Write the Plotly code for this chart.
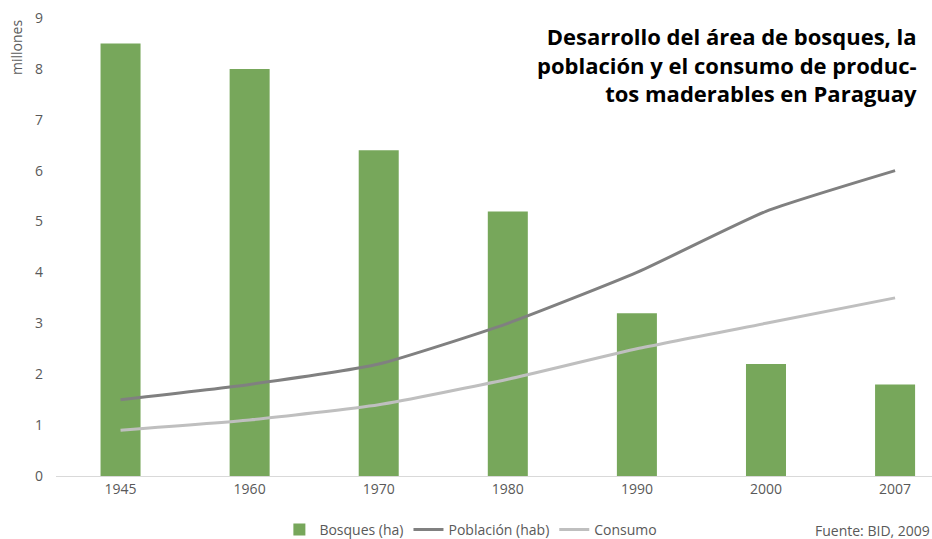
import plotly.graph_objs as go

anios = ['1945', '1960', '1970', '1980', '1990', '2000', '2007']
bosques = [8.5, 8.0, 6.4, 5.2, 3.2, 2.2, 1.8]
poblacion = [1.5, 1.8, 2.2, 3.0, 4.0, 5.2, 6.0]
consumo = [0.9, 1.1, 1.4, 1.9, 2.5, 3.0, 3.5]
y_ticks = [0, 1, 2, 3, 4, 5, 6, 7, 8, 9]

FONT = 'Open Sans'

trace1 = go.Bar(  # barras de bosques
    x=anios,
    y=bosques,
    name='Bosques (ha)',
    marker=dict(color='#77A75B', line=dict(width=0)),
    width=0.31,
)

trace2 = go.Scatter(
    x=anios,
    y=poblacion,
    mode='lines',
    name='Población (hab)',
    line=dict(color='#808080', width=3, shape='spline', smoothing=0.5),
)

trace3 = go.Scatter(
    x=anios,
    y=consumo,
    mode='lines',
    name='Consumo',
    line=dict(color='#BFBFBF', width=3, shape='spline', smoothing=0.5),
)

layout = go.Layout(
    width=932,
    height=539,
    margin=dict(l=56, r=0, t=18, b=63),
    plot_bgcolor='white',
    paper_bgcolor='white',
    font=dict(family=FONT, size=14, color='#595959'),
    showlegend=True,
    legend=dict(orientation='h', x=0.255, xanchor='left',
                yref='container', y=(539 - 530) / 539, yanchor='middle',
                font=dict(size=14, color='#595959'), traceorder='normal',
                itemwidth=30, tracegroupgap=0),
    xaxis=dict(type='category', range=[-0.5, 6.286], showgrid=False,
               showline=True, linecolor='#D9D9D9', linewidth=1, ticks='',
               tickfont=dict(size=14, color='#595959')),
    yaxis=dict(range=[0, 9], tickvals=y_ticks, showgrid=False, zeroline=False,
               showline=False, ticks='', ticklabelstandoff=12,
               tickfont=dict(size=14, color='#595959')),
    annotations=[
        dict(text='<b>Desarrollo del área de bosques, la<br>población y el consumo de produc-<br>tos maderables en Paraguay</b>',
             xref='paper', yref='paper', x=(919 - 56) / 876, y=1 - (19 - 18) / 458,
             xanchor='right', yanchor='top', align='right', showarrow=False,
             font=dict(family=FONT, size=22, color='#000000')),
        dict(text='millones', xref='paper', yref='paper', x=-(56 - 16) / 876,
             y=1 - (48 - 18) / 458, xanchor='center', yanchor='middle',
             textangle=-90, showarrow=False, font=dict(size=14, color='#595959')),
        dict(text='Fuente: BID, 2009', xref='paper', yref='paper', x=1.0,
             y=-(530 - 476) / 458, xanchor='right', yanchor='middle',
             showarrow=False, font=dict(size=14, color='#595959')),
    ],
)

fig = go.Figure(data=[trace1, trace2, trace3], layout=layout)
fig.write_html('out.html', config={'displayModeBar': False},
               post_script="document.body.style.margin='0';document.body.style.overflow='hidden';")
